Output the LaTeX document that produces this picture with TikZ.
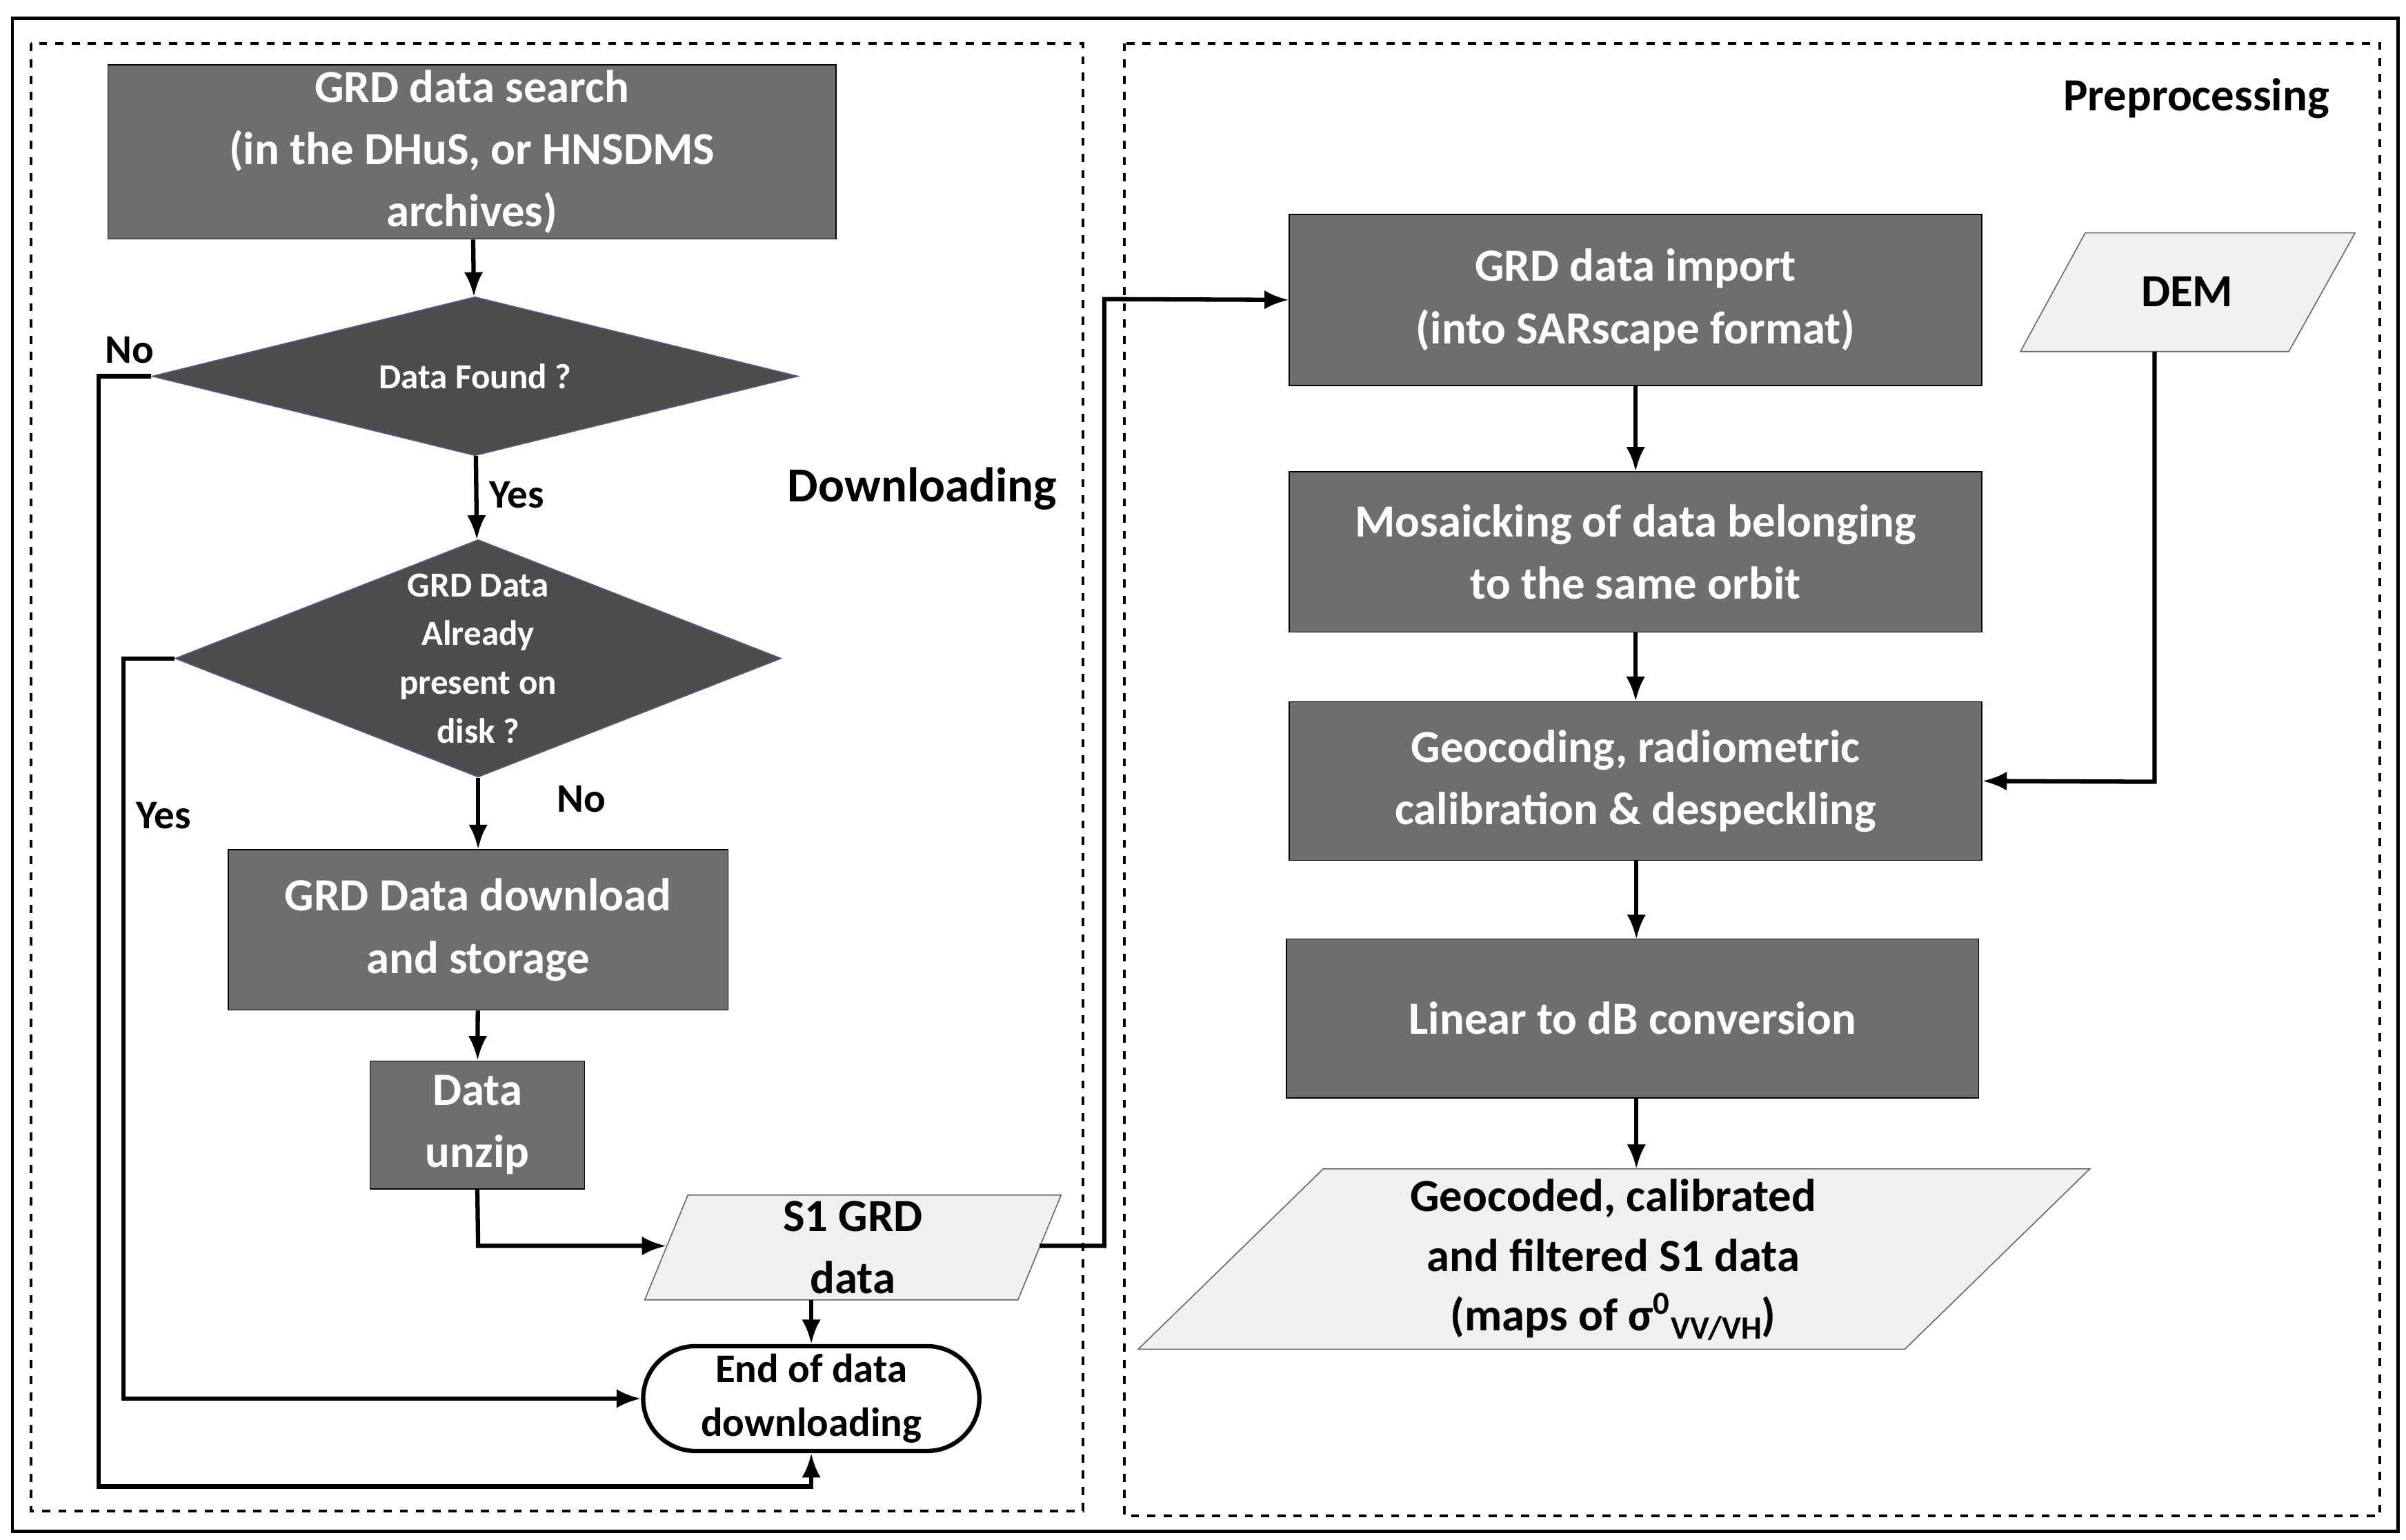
\documentclass[tikz,border=0pt]{standalone}
\usepackage{fontspec}
\setmainfont{Carlito}
\usetikzlibrary{shapes.geometric,shapes.misc,arrows.meta}
\begin{document}
\begin{tikzpicture}[x=0.02cm,y=-0.02cm,
 box/.style={draw=black,fill=black!57,text=white,font=\fontsize{17}{23}\selectfont\bfseries,align=center,inner sep=0pt},
 dia/.style={diamond,draw=black!40!blue!30!gray,fill=black!70,text=white,font=\fontsize{13}{18}\selectfont\bfseries,align=center,inner sep=0pt,aspect=2},
 io/.style={draw=black!60,fill=black!6},
 lab/.style={font=\fontsize{15}{18}\selectfont\bfseries},
 ar/.style={line width=1.6pt,-{Latex[length=9pt,width=7pt]}},
 dsh/.style={dashed,line width=1pt}]
\useasboundingbox (0,0) rectangle (1560,998.7);
\fill[white] (0,0) rectangle (1560,998.7);
\draw[line width=1.2pt] (8,12) rectangle (1555,993);
\draw[dsh] (20,28) rectangle (702,980);
\draw[dsh] (729,28) rectangle (1543,983);
% left
\node[box,minimum width=472*0.02cm,minimum height=113*0.02cm] (search) at (306,98.5) {GRD data search\\(in the DHuS, or HNSDMS\\archives)};
\node[dia,minimum width=419*0.02cm,minimum height=103*0.02cm,aspect=4] (found) at (308,244) {Data Found ?};
\node[dia,minimum width=393*0.02cm,minimum height=154*0.02cm,aspect=2.55] (present) at (310,427) {GRD Data\\Already\\present on\\disk ?};
\node[box,minimum width=324*0.02cm,minimum height=104*0.02cm] (dl) at (310,603) {GRD Data download\\and storage};
\node[box,minimum width=139*0.02cm,minimum height=83*0.02cm] (unzip) at (309.5,729.5) {Data\\unzip};
\draw[io] (418,843) -- (660,843) -- (688,775) -- (446,775) -- cycle;
\node[font=\fontsize{17}{23}\selectfont\bfseries,align=center] (s1) at (553,809) {S1 GRD\\data};
\coordinate (s1l) at (432,808); \coordinate (s1r) at (674,808);
\coordinate (s1b) at (526,843);
\node[draw,line width=1.6pt,rounded rectangle,minimum width=218*0.02cm,minimum height=68*0.02cm,font=\fontsize{15}{20}\selectfont\bfseries,align=center,inner sep=0pt] (end) at (526,907) {End of data\\downloading};
\node[lab] at (84,227) {No};
\node[lab] at (335,321) {Yes};
\node[lab] at (377,518) {No};
\node[lab] at (106,529) {Yes};
\node[font=\fontsize{18}{22}\selectfont\bfseries] at (598,317) {Downloading};
\node[font=\fontsize{17}{22}\selectfont\bfseries] at (1424,64) {Preprocessing};
% right
\node[box,minimum width=449*0.02cm,minimum height=111*0.02cm] (imp) at (1060.5,194.5) {GRD data import\\(into SARscape format)};
\node[box,minimum width=449*0.02cm,minimum height=104*0.02cm] (mos) at (1060.5,358) {Mosaicking of data belonging\\to the same orbit};
\node[box,minimum width=449*0.02cm,minimum height=103*0.02cm] (geo) at (1060.5,506.5) {Geocoding, radiometric\\calibration \& despeckling};
\node[box,minimum width=449*0.02cm,minimum height=103*0.02cm] (lin) at (1058.5,660.5) {Linear to dB conversion};
\draw[io] (1310,228) -- (1484,228) -- (1527,151) -- (1352,151) -- cycle;
\node[font=\fontsize{17}{22}\selectfont\bfseries] (dem) at (1418,189) {DEM};
\coordinate (demb) at (1397,228);
\draw[io] (738,875) -- (1235,875) -- (1355,758) -- (858,758) -- cycle;
\node[font=\fontsize{17}{22}\selectfont\bfseries,align=center] (out) at (1046,817) {Geocoded, calibrated\\and filtered S1 data\\(maps of σ\textsuperscript{0}\raisebox{-0.35ex}{\fontsize{12}{12}\selectfont VV/VH})};
\coordinate (outt) at (1061,758);
% connectors
\draw[ar] (search) -- (found);
\draw[ar] (found) -- (present);
\draw[ar] (found.west) -- (64,244) -- (64,964) -- (526,964) -- (end.south);
\draw[ar] (present.west) -- (80,427) -- (80,907) -- (end.west);
\draw[ar] (present) -- (dl);
\draw[ar] (dl) -- (unzip);
\draw[ar] (unzip.south) -- (310,808) -- (s1l);
\draw[ar] (s1b) -- (end.north);
\draw[ar] (s1r) -- (716,808) -- (716,194) -- (imp.west);
\draw[ar] (imp) -- (mos);
\draw[ar] (mos) -- (geo);
\draw[ar] (1061,558) -- (1061,609);
\draw[ar] (1061,712) -- (outt);
\draw[ar] (demb) -- (1397,507) -- (geo.east);
\end{tikzpicture}
\end{document}
